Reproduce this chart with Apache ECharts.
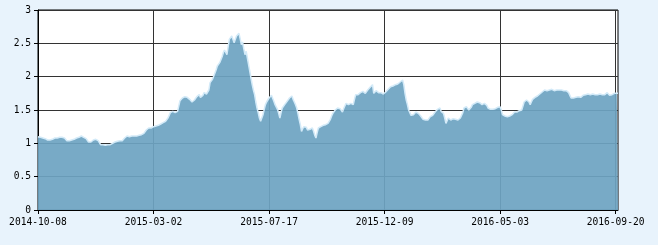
<!DOCTYPE html>
<html><head><meta charset="utf-8">
<script src="https://cdn.jsdelivr.net/npm/echarts@6/dist/echarts.min.js"></script>
<style>html,body{margin:0;padding:0;background:#e8f3fc}#c{width:658px;height:245px}</style>
</head><body><div id="c"></div>
<script>
// Trading-day calendar: first date, number of points, market holidays (weekday closures)
var startDate = '2014-10-08';
var pointCount = 483;
var holidays = ['2015-01-01','2015-01-02','2015-02-18','2015-02-19','2015-02-20','2015-02-23','2015-02-24',
  '2015-04-06','2015-05-01','2015-06-22','2015-09-03','2015-09-04','2015-10-01','2015-10-02','2015-10-05',
  '2015-10-06','2015-10-07','2016-01-01','2016-02-08','2016-02-09','2016-02-10','2016-02-11','2016-02-12',
  '2016-04-04','2016-05-02','2016-06-09','2016-06-10','2016-09-15','2016-09-16'];

var values = [
1.10,1.10,1.09,1.09,1.08,1.07,1.07,1.06,1.05,1.05,
1.05,1.05,1.06,1.07,1.08,1.09,1.08,1.09,1.09,1.08,
1.09,1.08,1.08,1.06,1.04,1.03,1.04,1.04,1.05,1.05,
1.06,1.06,1.08,1.09,1.09,1.10,1.11,1.10,1.09,1.08,
1.07,1.04,1.02,1.00,1.02,1.04,1.05,1.06,1.06,1.05,
1.04,1.01,0.98,0.97,0.98,0.97,0.97,0.98,0.98,0.97,
0.98,0.98,1.00,1.01,1.02,1.02,1.03,1.03,1.04,1.04,
1.04,1.06,1.08,1.10,1.11,1.11,1.10,1.10,1.11,1.11,
1.11,1.10,1.11,1.12,1.12,1.12,1.13,1.13,1.15,1.18,
1.20,1.21,1.23,1.24,1.23,1.25,1.25,1.26,1.26,1.27,
1.27,1.28,1.29,1.30,1.31,1.32,1.33,1.36,1.38,1.42,
1.46,1.48,1.48,1.47,1.46,1.46,1.48,1.49,1.64,1.66,
1.68,1.69,1.70,1.71,1.69,1.67,1.66,1.64,1.62,1.61,
1.65,1.68,1.70,1.72,1.73,1.69,1.66,1.72,1.76,1.75,
1.74,1.74,1.80,1.91,1.94,1.96,1.98,2.05,2.10,2.16,
2.19,2.21,2.23,2.30,2.36,2.40,2.43,2.33,2.45,2.56,
2.59,2.61,2.58,2.51,2.56,2.61,2.63,2.65,2.57,2.48,
2.52,2.42,2.33,2.38,2.28,2.18,2.08,1.98,1.88,1.80,
1.73,1.62,1.53,1.46,1.38,1.33,1.38,1.43,1.51,1.58,
1.62,1.65,1.68,1.70,1.72,1.73,1.63,1.58,1.55,1.51,
1.45,1.38,1.46,1.53,1.55,1.58,1.61,1.63,1.66,1.68,
1.70,1.71,1.66,1.62,1.58,1.53,1.45,1.36,1.28,1.18,
1.22,1.25,1.28,1.24,1.20,1.18,1.21,1.24,1.23,1.18,
1.12,1.08,1.16,1.23,1.24,1.25,1.26,1.27,1.26,1.28,
1.29,1.30,1.31,1.36,1.41,1.45,1.47,1.50,1.52,1.53,
1.55,1.52,1.49,1.47,1.52,1.56,1.60,1.59,1.58,1.58,
1.60,1.63,1.58,1.66,1.73,1.74,1.73,1.75,1.76,1.77,
1.78,1.76,1.75,1.78,1.80,1.83,1.84,1.86,1.88,1.75,
1.77,1.79,1.78,1.76,1.75,1.76,1.75,1.74,1.75,1.77,
1.80,1.81,1.83,1.85,1.84,1.86,1.87,1.88,1.87,1.89,
1.90,1.92,1.93,1.95,1.88,1.75,1.65,1.58,1.50,1.46,
1.42,1.40,1.43,1.45,1.47,1.46,1.45,1.43,1.41,1.40,
1.36,1.33,1.35,1.36,1.35,1.38,1.40,1.41,1.42,1.42,
1.47,1.50,1.51,1.52,1.53,1.48,1.47,1.45,1.38,1.30,
1.34,1.38,1.36,1.35,1.35,1.37,1.38,1.36,1.35,1.35,
1.37,1.38,1.38,1.46,1.53,1.54,1.55,1.52,1.50,1.48,
1.54,1.58,1.59,1.60,1.61,1.62,1.63,1.61,1.60,1.58,
1.59,1.60,1.61,1.57,1.53,1.52,1.51,1.50,1.51,1.52,
1.52,1.53,1.54,1.55,1.55,1.50,1.43,1.42,1.41,1.40,
1.40,1.41,1.41,1.42,1.43,1.45,1.47,1.47,1.47,1.48,
1.49,1.50,1.50,1.56,1.62,1.63,1.65,1.66,1.62,1.58,
1.62,1.66,1.68,1.69,1.70,1.71,1.72,1.74,1.75,1.77,
1.79,1.80,1.80,1.79,1.80,1.80,1.80,1.81,1.80,1.79,
1.80,1.80,1.81,1.80,1.80,1.80,1.79,1.79,1.80,1.79,
1.78,1.76,1.72,1.68,1.67,1.68,1.69,1.69,1.70,1.70,
1.69,1.69,1.71,1.72,1.73,1.73,1.74,1.74,1.73,1.73,
1.74,1.74,1.74,1.73,1.73,1.73,1.74,1.74,1.74,1.73,
1.71,1.73,1.75,1.76,1.74,1.72,1.71,1.73,1.74,1.75,
1.74,1.75,1.75
];

var yMin = 0, yMax = 3, yStep = 0.5;

function pad(n){ return n < 10 ? '0' + n : '' + n; }
var categories = [];
(function(){
  var p = startDate.split('-');
  var d = new Date(Date.UTC(+p[0], +p[1]-1, +p[2]));
  var hol = {}; holidays.forEach(function(h){ hol[h] = 1; });
  while (categories.length < pointCount) {
    var s = d.getUTCFullYear() + '-' + pad(d.getUTCMonth()+1) + '-' + pad(d.getUTCDate());
    var wd = d.getUTCDay();
    if (wd !== 0 && wd !== 6 && !hol[s]) categories.push(s);
    d = new Date(d.getTime() + 86400000);
  }
})();

var font = 'DejaVu Sans Mono';
var chart = echarts.init(document.getElementById('c'), null, {renderer:'canvas'});
chart.setOption({
  animation: false,
  backgroundColor: '#e8f3fc',
  grid: { left: 38, right: 40, top: 10, bottom: 35, show: true, backgroundColor: '#ffffff', borderColor: '#000', borderWidth: 1 },
  xAxis: {
    type: 'category', data: categories, boundaryGap: false,
    axisLine: { lineStyle: { color: '#000', width: 1 } },
    axisTick: { interval: 95, length: 4, lineStyle: { color: '#000' } },
    axisLabel: { interval: 95, color: '#000', fontFamily: font, fontSize: 9.6, margin: 7 },
    splitLine: { show: true, interval: 95, lineStyle: { color: '#333', width: 1 } }
  },
  yAxis: {
    type: 'value', min: yMin, max: yMax, interval: yStep,
    axisLine: { show: true, lineStyle: { color: '#000', width: 1 } },
    axisTick: { show: true, length: 4, lineStyle: { color: '#000' } },
    axisLabel: { color: '#000', fontFamily: font, fontSize: 9.6, margin: 7 },
    splitLine: { show: true, lineStyle: { color: '#333', width: 1 } }
  },
  series: [{
    type: 'line', data: values, showSymbol: false, symbol: 'none',
    lineStyle: { color: '#d3eaf8', width: 1.5 },
    areaStyle: { color: 'rgb(110,164,194)', opacity: 0.93 }
  }]
});
</script></body></html>
